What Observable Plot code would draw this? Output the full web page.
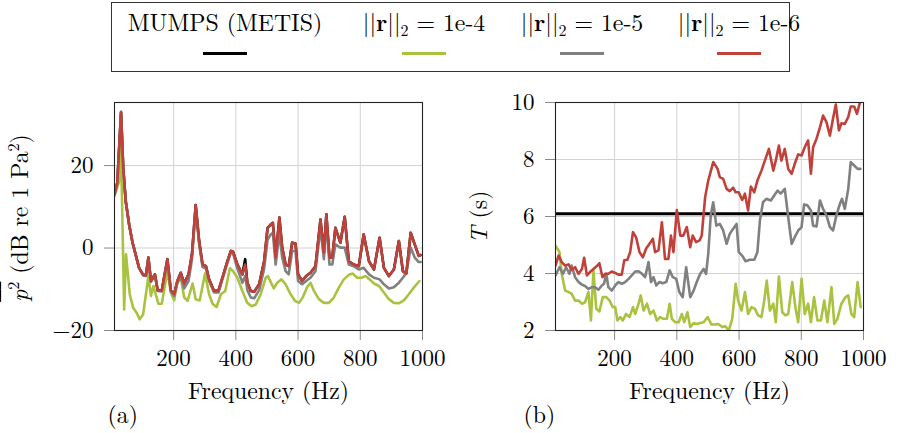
<!DOCTYPE html>
<html>
<head>
<meta charset="utf-8">
<script src="https://cdn.jsdelivr.net/npm/d3@7"></script>
<script src="https://cdn.jsdelivr.net/npm/@observablehq/plot@0.6"></script>
<style>
  body { margin: 0; background: #fff; }
  #root { position: relative; width: 902px; height: 433px; overflow: hidden; background: #fff; color: #000;
          font-family: 'Latin Modern Roman', 'Liberation Serif', serif; }
  .legend { position: absolute; left: 111px; top: 2px; width: 679px; height: 70px; box-sizing: border-box;
            border: 1.3px solid #333; }
  .lg-text { position: absolute; top: 5px; font-size: 23.8px; line-height: 26px; white-space: nowrap; transform: translateX(-50%); }
  .lg-line { position: absolute; top: 49px; height: 3px; width: 44px; transform: translateX(-50%); }
  .lg-text sub { font-size: 16px; vertical-align: -5px; line-height: 0; }
  .ylab { position: absolute; font-size: 23.8px; line-height: 1; white-space: nowrap; transform: translate(-50%, -50%) rotate(-90deg); }
  .ylab sup { font-size: 16px; vertical-align: 9px; line-height: 0; }
</style>
</head>
<body>
<div id="root"></div>
<script>
// ---------- data ----------
const xTicks = [200, 400, 600, 800, 1000];
const leftYTicks = [-20, 0, 20];
const rightYTicks = [2, 4, 6, 8, 10];
const seriesNames = ["MUMPS (METIS)", "1e-4", "1e-5", "1e-6"];
const seriesColors = ["#000000", "#a9c23f", "#808080", "#c0413a"];

// (a) mean-square pressure, dB re 1 Pa^2
const leftFreq = [10,19,31,38,46,57,68,79,89,102,111,119,127,140,149,162,180,191,202,212,223,234,248,259,271,282,293,304,314,330,344,357,373,384,391,405,421,430,437,448,459,475,491,502,512,519,528,540,549,560,570,581,592,600,613,626,640,656,672,683,691,701,710,720,736,750,763,779,795,811,828,844,862,876,892,908,924,937,948,962,975,988,994];
const leftMumps = [13.0,15.8,33.0,19.5,11.4,5.7,1.3,-1.9,-4.8,-6.5,-6.6,-2.3,-8.0,-6.4,-10.3,-10.3,-2.7,-10.3,-11.2,-8.0,-6.0,-8.6,-6.4,-1.5,10.4,1.7,-4.0,-4.4,-7.6,-10.4,-10.4,-7.2,-3.2,-0.7,-0.9,-4.0,-6.4,-2.7,-8.4,-10.4,-10.6,-8.8,-3.2,4.9,5.7,6.1,-2.3,7.4,0.1,-4.0,-4.4,1.3,1.1,-6.4,-8.0,-6.8,-6.0,-4.4,6.9,-1.1,8.2,-2.3,-2.3,4.9,1.3,7.6,-3.2,-4.0,-4.4,3.3,-3.2,-5.2,2.5,-4.8,-6.8,-5.2,1.7,-5.6,-6.2,3.7,0.9,-1.9,-1.7];
const leftR6 = [13.0,15.8,33.0,19.5,11.4,5.7,1.3,-1.9,-4.8,-6.5,-6.6,-2.3,-8.0,-6.4,-10.3,-10.3,-2.7,-10.3,-11.2,-8.0,-6.0,-8.6,-6.4,-1.5,10.4,1.7,-4.0,-4.4,-7.6,-10.4,-10.4,-7.2,-3.2,-0.7,-0.9,-4.0,-6.4,-4.0,-8.4,-10.4,-10.6,-8.8,-3.2,4.9,5.7,6.1,-2.3,7.4,0.1,-4.0,-4.4,1.3,1.1,-6.4,-8.0,-6.8,-6.0,-4.4,6.9,-1.1,8.2,-2.3,-2.3,4.9,1.3,7.6,-3.2,-4.0,-4.4,3.3,-3.2,-5.2,2.5,-4.8,-6.8,-5.2,1.7,-5.6,-6.2,3.7,0.9,-1.9,-1.7];
const leftR5 = [13.0,15.8,32.5,19.5,11.4,5.7,1.3,-1.9,-4.8,-6.6,-6.8,-2.5,-8.2,-6.6,-10.4,-10.5,-3.0,-10.5,-11.6,-8.6,-7.0,-9.8,-8.0,-2.8,9.6,1.0,-4.6,-5.0,-8.0,-10.8,-10.8,-7.6,-3.6,-1.1,-1.3,-5.0,-8.4,-6.8,-10.2,-12.0,-12.2,-10.2,-5.0,2.0,3.3,3.7,-4.0,3.7,-2.3,-5.6,-6.4,-0.7,-0.7,-8.0,-8.8,-8.0,-7.2,-5.6,4.9,-2.7,6.5,-4.0,-4.0,0.9,0.1,0.1,-4.0,-4.4,-5.2,-4.8,-6.4,-7.2,-7.6,-8.8,-9.8,-9.5,-8.4,-7.2,-6.0,0.1,-2.3,-3.4,-3.4];
const leftR4Freq = [10,25,31,41,47,59,70,81,91,102,111,119,127,135,151,162,173,180,191,202,212,223,234,245,261,271,284,301,314,325,338,352,366,381,391,405,421,437,451,464,480,496,503,512,522,533,547,560,576,590,603,615,629,640,651,667,683,699,715,731,747,763,776,790,804,817,830,844,860,876,892,908,924,940,956,972,990];
const leftR4 = [12.6,16.2,24.0,-14.9,-1.5,-11.2,-14.5,-15.7,-17.3,-16.1,-11.2,-6.8,-11.6,-9.2,-13.5,-13.5,-8.8,-5.6,-10.8,-12.7,-8.0,-7.2,-12.0,-12.8,-8.6,-12.4,-12.7,-6.2,-11.2,-13.5,-14.3,-11.2,-10.4,-4.9,-5.6,-7.2,-10.4,-13.3,-14.1,-13.7,-11.2,-7.2,-6.8,-8.2,-9.8,-8.4,-7.6,-8.8,-11.2,-12.8,-13.3,-12.0,-9.5,-8.4,-10.4,-12.4,-13.3,-13.3,-12.0,-9.6,-7.6,-6.5,-6.2,-7.2,-7.2,-6.8,-7.6,-8.6,-9.2,-10.8,-12.4,-13.3,-13.4,-12.7,-11.2,-9.6,-8.0];

// (b) solution time T (s)
const rightMumpsFreq = [10, 1000];
const rightMumps = [6.1, 6.1];
const rightR4Freq = [10,23,30,41,52,62,73,84,95,105,116,124,132,141,151,162,173,184,194,202,209,218,226,237,248,259,266,277,284,293,304,314,325,336,346,357,368,377,384,395,406,416,424,434,443,454,464,475,486,499,511,522,533,546,556,567,578,589,597,608,619,629,640,651,661,672,681,689,699,710,718,728,739,749,758,771,781,790,801,811,822,831,841,852,863,874,884,897,906,916,929,942,951,961,970,981,991];
const rightR4 = [4.98,4.75,3.99,3.40,3.35,3.29,3.05,3.05,2.94,2.99,3.35,2.35,4.1,2.76,2.67,3.17,3.17,3.05,2.82,2.82,2.35,2.47,2.35,2.58,2.47,2.82,2.58,2.94,3.23,2.70,2.94,2.58,2.70,2.35,2.47,2.41,2.41,2.94,2.41,2.29,2.29,2.58,2.29,2.64,2.12,2.26,2.23,2.26,2.29,2.47,2.21,2.21,2.23,2.12,2.15,2.00,2.41,3.64,3.05,2.70,3.35,2.58,2.82,2.76,2.53,2.47,3.05,3.75,2.70,2.94,2.29,3.89,2.64,2.53,2.58,3.70,2.82,2.29,3.81,2.58,2.94,2.29,3.17,2.35,2.35,3.05,2.29,3.52,2.23,2.41,2.94,3.17,3.23,2.58,2.47,3.70,2.82];
const rightR5Freq = [10,23,34,44,55,62,73,84,95,105,116,127,137,148,159,166,173,180,191,202,212,223,234,245,255,266,277,288,298,309,317,325,334,344,355,366,377,387,398,408,419,430,443,454,464,475,486,494,501,509,517,527,538,549,560,570,581,592,599,610,621,635,649,659,667,677,688,702,713,724,734,747,758,769,779,790,801,809,820,831,838,849,860,870,881,892,902,913,924,931,940,951,959,970,981,990];
const rightR5 = [3.93,4.22,3.99,4.22,3.99,4.28,3.87,3.70,3.61,3.56,3.46,3.52,3.52,3.43,3.58,3.64,3.99,3.52,3.40,3.58,3.70,3.64,3.70,3.81,3.93,4.07,4.08,3.99,3.87,4.40,3.70,3.87,3.58,3.70,3.66,3.70,4.11,3.87,3.81,3.35,3.17,4.22,3.17,3.40,3.70,3.99,4.16,3.99,4.69,6.04,6.50,5.68,5.74,5.51,5.04,5.39,5.57,5.74,4.75,4.63,4.43,4.48,4.48,4.75,5.86,6.50,6.62,6.56,6.74,6.91,6.80,6.97,5.98,5.04,5.27,5.51,5.63,6.42,6.39,6.21,5.68,5.65,6.56,6.27,6.04,5.63,5.51,6.04,6.44,6.62,6.27,6.97,7.91,7.79,7.67,7.67];
const rightR6Freq = [10,20,30,41,52,62,73,84,95,102,111,121,132,143,151,161,170,180,191,202,212,223,231,241,250,259,269,280,291,301,312,323,330,341,352,362,373,381,389,400,411,421,432,443,451,462,473,480,491,501,517,531,538,549,560,570,581,589,599,610,619,629,638,649,659,672,683,696,710,718,728,736,747,758,769,779,790,801,811,822,831,838,849,860,870,881,892,902,911,921,929,940,951,959,970,979,988,995];
const rightR6 = [4.28,4.63,4.40,4.28,4.32,4.13,4.22,3.99,4.16,4.55,3.93,4.05,4.16,4.26,4.36,3.87,3.99,3.99,4.07,4.02,3.96,3.96,4.46,4.48,4.75,5.45,5.27,4.75,4.57,4.87,5.04,5.22,4.75,4.81,5.80,4.51,4.51,5.33,4.75,6.23,5.33,5.33,5.63,4.92,5.33,5.10,5.16,5.33,6.68,7.26,7.91,7.67,7.38,7.32,6.97,6.89,7.01,6.85,6.85,6.58,6.80,6.21,7.05,6.85,7.26,7.61,7.96,8.37,7.61,7.96,8.49,7.96,8.37,7.67,7.50,7.85,8.18,8.14,8.43,8.67,7.50,8.43,8.73,9.13,9.54,9.31,8.84,9.43,9.93,9.02,9.27,9.25,9.49,9.86,9.86,9.60,9.98,10.1];

// ---------- drawing ----------
const FONT = "'Latin Modern Roman', 'Liberation Serif', serif";
const TICK_SIZE = 23;
const LABEL_SIZE = 23.8;
const pts = (f, v) => f.map((x, i) => ({f: x, v: v[i]}));
const fmt = d => d < 0 ? "\u2212" + Math.abs(d) : String(d);

function panel({yDomain, yTicks, series, marginLeft, marginRight, sub, subDx}) {
  const lines = series.map(([f, v, c, w]) =>
    Plot.line(pts(f, v), {x: "f", y: "v", stroke: c, strokeWidth: w, clip: true, strokeLinejoin: "round"}));
  const svg = Plot.plot({
    width: 451, height: 353,
    marginLeft, marginRight, marginTop: 22, marginBottom: 103,
    style: {fontFamily: FONT, fontSize: TICK_SIZE + "px", background: "transparent", overflow: "visible", color: "black"},
    x: {domain: [10, 1000], label: null},
    y: {domain: yDomain, label: null},
    marks: [
      Plot.gridX(xTicks, {stroke: "#d2d2d2", strokeOpacity: 1, strokeWidth: 1}),
      Plot.gridY(yTicks, {stroke: "#d2d2d2", strokeOpacity: 1, strokeWidth: 1}),
      Plot.axisX(xTicks, {tickSize: 10, tickPadding: 9, tickFormat: fmt, stroke: "#8a8a8a", fill: "black", label: null, fontFamily: FONT, fontSize: TICK_SIZE}),
      Plot.axisY(yTicks, {tickSize: 10, tickPadding: 11, tickFormat: fmt, stroke: "#8a8a8a", fill: "black", label: null, fontFamily: FONT, fontSize: TICK_SIZE}),
      ...lines,
      Plot.frame({stroke: "#222", strokeWidth: 1.1}),
      Plot.text(["Frequency (Hz)"], {frameAnchor: "bottom", lineAnchor: "bottom", dy: 68, text: d => d, fontSize: LABEL_SIZE, fontFamily: FONT, fill: "black"}),
      Plot.text([sub], {frameAnchor: "bottom-left", lineAnchor: "bottom", dx: subDx, dy: 92, text: d => d, textAnchor: "start", fontSize: LABEL_SIZE, fontFamily: FONT, fill: "black"})
    ]
  });
  svg.style.position = "absolute";
  svg.style.top = "80px";
  return svg;
}

const root = document.getElementById("root");

const left = panel({
  yDomain: [-20, 35.3], yTicks: leftYTicks, marginLeft: 114, marginRight: 29, sub: "(a)", subDx: -7,
  series: [[leftFreq, leftMumps, seriesColors[0], 2.6], [leftR4Freq, leftR4, seriesColors[1], 2.6],
           [leftFreq, leftR5, seriesColors[2], 2.6], [leftFreq, leftR6, seriesColors[3], 2.6]]
});
left.style.left = "0px";
root.appendChild(left);

const right = panel({
  yDomain: [2, 10], yTicks: rightYTicks, marginLeft: 104, marginRight: 39, sub: "(b)", subDx: -32,
  series: [[rightMumpsFreq, rightMumps, seriesColors[0], 3], [rightR4Freq, rightR4, seriesColors[1], 2.6],
           [rightR5Freq, rightR5, seriesColors[2], 2.6], [rightR6Freq, rightR6, seriesColors[3], 2.6]]
});
right.style.left = "451px";
root.appendChild(right);

// y-axis titles
function ylab(x, y, html) {
  const d = document.createElement("div");
  d.className = "ylab"; d.style.left = x + "px"; d.style.top = y + "px";
  d.innerHTML = html;
  root.appendChild(d);
}
ylab(19, 218, '<span style="text-decoration: overline"><i>p</i><sup>2</sup></span> (dB re 1 Pa<sup>2</sup>)');
ylab(478, 217, '<i>T</i> (s)');

// legend
const legend = document.createElement("div");
legend.className = "legend";
const centers = [113, 312, 470, 627];
const labels = [
  seriesNames[0],
  "||<b>r</b>||<sub>2</sub> = " + seriesNames[1],
  "||<b>r</b>||<sub>2</sub> = " + seriesNames[2],
  "||<b>r</b>||<sub>2</sub> = " + seriesNames[3]
];
labels.forEach((lab, i) => {
  const t = document.createElement("div");
  t.className = "lg-text"; t.style.left = centers[i] + "px"; t.innerHTML = lab;
  legend.appendChild(t);
  const l = document.createElement("div");
  l.className = "lg-line"; l.style.left = centers[i] + "px"; l.style.background = seriesColors[i];
  legend.appendChild(l);
});
root.appendChild(legend);
</script>
</body>
</html>
